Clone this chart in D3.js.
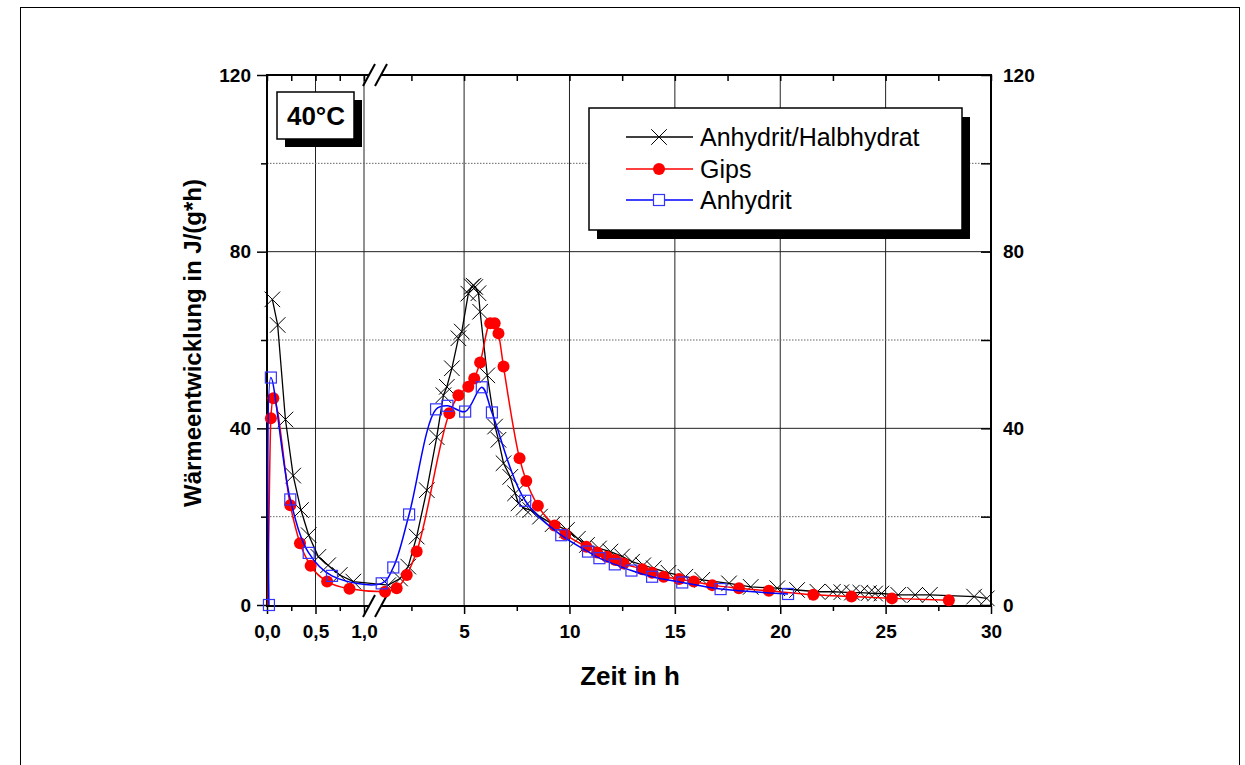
<!DOCTYPE html>
<html>
<head>
<meta charset="utf-8">
<script src="https://cdn.jsdelivr.net/npm/d3@7"></script>
<style>
  body { margin: 0; background: #fff; }
  text { font-family: 'Liberation Sans', Arial, sans-serif; }
  .tick text { font-weight: bold; font-size: 19px; fill: #000; }
</style>
</head>
<body>
<div id="chart"></div>
<script>
// Zeit in h / Wärmeentwicklung in J/(g*h)
const seriesNames = ['Anhydrit/Halbhydrat', 'Gips', 'Anhydrit'];

const halbhydratT = [0.055, 0.11, 0.19, 0.27, 0.35, 0.43, 0.53, 0.63, 0.75, 0.89, 1.4, 1.96, 2.35, 2.75, 3.23, 3.7,
  4.02, 4.18, 4.42, 4.73, 4.89, 5.2, 5.37, 5.45, 5.53, 5.68, 5.76, 6.1, 6.47, 6.63, 6.87, 7.19, 7.42, 7.58, 7.82,
  8.14, 8.6, 9.2, 9.88, 10.4, 10.83, 11.4, 11.94, 12.5, 12.97, 13.5, 14.0, 14.7, 15.5, 16.3, 17.57, 18.6, 19.86,
  20.8, 21.76, 22.5, 22.9, 23.4, 23.8, 24.2, 24.5, 24.8, 25.6, 26.4, 27.1, 29.2, 29.8];
const halbhydratW = [69.2, 63.4, 42, 29.3, 21.5, 15.8, 10.9, 9.0, 6.8, 5.3, 4.5, 6.0, 8.7, 15.5, 26, 38,
  47.5, 49.4, 53.6, 60.4, 61.9, 70.5, 72.1, 72.3, 72, 70.6, 66.4, 52, 40.4, 37.4, 32.1, 29, 25.3, 23, 22,
  21.5, 20, 18.3, 17, 15, 13.6, 12.8, 12.1, 11, 9.8, 9, 8.3, 7.3, 6.4, 5.7, 4.9, 4.1, 3.8,
  3.4, 3.0, 3.0, 2.9, 2.8, 2.8, 2.7, 2.6, 2.6, 2.3, 2.3, 2.3, 1.9, 1.5];

const gipsT = [0.01, 0.04, 0.065, 0.24, 0.34, 0.45, 0.62, 0.85, 1.25, 1.8, 2.28, 2.75, 4.3, 4.73, 5.2, 5.48, 5.76,
  6.24, 6.45, 6.63, 6.87, 7.63, 7.95, 8.5, 9.29, 9.8, 10.8, 11.31, 11.78, 12.18, 12.57, 13.45, 13.92, 14.47, 15.2,
  15.9, 16.77, 18.04, 19.46, 21.57, 23.38, 25.3, 28.0];
const gipsW = [0, 42.3, 46.8, 22.6, 14.0, 8.9, 5.3, 3.7, 3.0, 3.8, 6.8, 12.1, 43.4, 47.5, 49.4, 51.3, 54.9,
  63.8, 63.8, 61.5, 54, 33.2, 28.1, 22.5, 18, 16, 13.2, 11.9, 10.9, 10.2, 9.4, 8.1, 7.3, 6.4, 5.9,
  5.3, 4.5, 3.8, 3.2, 2.3, 1.9, 1.5, 1.1];

const anhydritT = [0.02, 0.04, 0.24, 0.43, 0.67, 1.09, 1.64, 2.39, 3.67, 4.21, 5.05, 5.84, 6.32, 7.9, 9.61,
  10.88, 11.42, 12.15, 12.94, 13.92, 15.35, 17.17, 20.37];
const anhydritW = [0, 51.5, 23.9, 11.8, 6.6, 4.9, 8.5, 20.5, 44.3, 45.1, 43.8, 49.3, 43.6, 23.6, 15.8,
  12.1, 10.6, 9.2, 7.8, 6.4, 5.1, 3.6, 2.5];

const xTicksLeft = [0, 0.5, 1.0];
const xMinorLeft = [0.25, 0.75];
const xTicksRight = [5, 10, 15, 20, 25, 30];
const xMinorRight = [2.5, 7.5, 12.5, 17.5, 22.5, 27.5];
const yTicks = [0, 40, 80, 120];
const yMinorTicks = [20, 60, 100];

const width = 1245;
const height = 765;

const svg = d3
  .select('#chart')
  .append('svg')
  .attr('width', width)
  .attr('height', height);

svg.append('rect').attr('width', width).attr('height', height).attr('fill', '#fff');
svg
  .append('rect')
  .attr('x', 20.5)
  .attr('y', 7.5)
  .attr('width', 1219)
  .attr('height', 800)
  .attr('fill', 'none')
  .attr('stroke', '#000');

// broken x axis: two linear pieces
const xLeft = d3.scaleLinear().domain([0, 1]).range([267, 364]);
const xRight = d3.scaleLinear().domain([1, 30]).range([379.8, 991]);
const xPos = t => (t <= 1 ? xLeft(t) : xRight(t));
const y = d3.scaleLinear().domain([0, 120]).range([605, 75]);

const commaFmt = d => d.toFixed(1).replace('.', ',');

// grid
const grid = svg.append('g').attr('class', 'grid');
[0.5, 1.0].map(xLeft).concat([5, 10, 15, 20, 25].map(xRight)).forEach(px => {
  grid
    .append('line')
    .attr('x1', px)
    .attr('x2', px)
    .attr('y1', y(120))
    .attr('y2', y(0))
    .attr('stroke', '#222')
    .attr('stroke-width', 1);
});
[40, 80].forEach(v => {
  grid
    .append('line')
    .attr('x1', 267)
    .attr('x2', 991)
    .attr('y1', y(v))
    .attr('y2', y(v))
    .attr('stroke', '#222')
    .attr('stroke-width', 1);
});
yMinorTicks.forEach(v => {
  grid
    .append('line')
    .attr('x1', 267)
    .attr('x2', 991)
    .attr('y1', y(v))
    .attr('y2', y(v))
    .attr('stroke', '#666')
    .attr('stroke-width', 1)
    .attr('stroke-dasharray', '1.5,1.5');
});

// axes
const axisG = (tr, axis) => {
  const g = svg.append('g').attr('transform', tr).call(axis);
  g.select('.domain').remove();
  g.selectAll('.tick line').attr('stroke', '#000').attr('stroke-width', 1.5);
  return g;
};

// bottom
axisG('translate(0,606)', d3.axisBottom(xLeft).tickValues(xTicksLeft).tickSize(8).tickPadding(11).tickFormat(commaFmt));
axisG('translate(0,606)', d3.axisBottom(xLeft).tickValues(xMinorLeft).tickSize(5).tickFormat(''));
axisG('translate(0,606)', d3.axisBottom(xRight).tickValues(xTicksRight).tickSize(8).tickPadding(11).tickFormat(d3.format('d')));
axisG('translate(0,606)', d3.axisBottom(xRight).tickValues(xMinorRight).tickSize(5).tickFormat(''));
// top (inward)
axisG('translate(0,75)', d3.axisBottom(xLeft).tickValues(xTicksLeft.concat(xMinorLeft)).tickSize(6).tickFormat(''));
axisG('translate(0,75)', d3.axisBottom(xRight).tickValues(xTicksRight.concat(xMinorRight)).tickSize(6).tickFormat(''));
// left
axisG('translate(267,0)', d3.axisLeft(y).tickValues(yTicks).tickSize(10).tickPadding(6).tickFormat(d3.format('d')));
axisG('translate(267,0)', d3.axisLeft(y).tickValues(yMinorTicks).tickSize(6).tickFormat(''));
// right (inward ticks, labels outside)
axisG('translate(991,0)', d3.axisLeft(y).tickValues(yTicks.concat(yMinorTicks)).tickSize(10).tickFormat(''));
axisG('translate(991,0)', d3.axisRight(y).tickValues(yTicks).tickSize(0).tickPadding(12).tickFormat(d3.format('d')));

// axis lines with break
const frame = svg.append('g').attr('stroke', '#000').attr('stroke-width', 2).attr('fill', 'none');
[75, 606].forEach(py => {
  frame.append('line').attr('x1', 267).attr('x2', 369).attr('y1', py).attr('y2', py);
  frame.append('line').attr('x1', 381).attr('x2', 992).attr('y1', py).attr('y2', py);
  [369, 381].forEach(cx => {
    frame
      .append('line')
      .attr('x1', cx - 6)
      .attr('y1', py + 11)
      .attr('x2', cx + 6)
      .attr('y2', py - 11);
  });
});
frame.append('line').attr('x1', 267).attr('x2', 267).attr('y1', 74).attr('y2', 607);
frame.append('line').attr('x1', 991).attr('x2', 991).attr('y1', 74).attr('y2', 607);

// series
const toPts = (ts, ws) => ts.map((t, i) => ({ t, w: ws[i] }));
const halbhydrat = toPts(halbhydratT, halbhydratW);
const gips = toPts(gipsT, gipsW);
const anhydrit = toPts(anhydritT, anhydritW);

const line = curve =>
  d3
    .line()
    .x(d => xPos(d.t))
    .y(d => y(d.w))
    .curve(curve);

const plot = svg.append('g');

// Anhydrit/Halbhydrat
plot
  .append('path')
  .attr('d', line(d3.curveLinear)(halbhydrat))
  .attr('fill', 'none')
  .attr('stroke', '#000')
  .attr('stroke-width', 1.3);
const cross = d3.symbol().type(d3.symbolTimes).size(160);
plot
  .selectAll('.cross')
  .data(halbhydrat)
  .enter()
  .append('path')
  .attr('class', 'cross')
  .attr('d', cross)
  .attr('transform', d => `translate(${xPos(d.t)},${y(d.w)})`)
  .attr('fill', 'none')
  .attr('stroke', '#000')
  .attr('stroke-width', 1);

// Gips
plot
  .append('path')
  .attr('d', line(d3.curveMonotoneX)(gips))
  .attr('fill', 'none')
  .attr('stroke', '#f00')
  .attr('stroke-width', 1.5);
plot
  .selectAll('.dot')
  .data(gips.filter(d => d.w > 0))
  .enter()
  .append('circle')
  .attr('class', 'dot')
  .attr('cx', d => xPos(d.t))
  .attr('cy', d => y(d.w))
  .attr('r', 6)
  .attr('fill', '#f00');

// Anhydrit
plot
  .append('path')
  .attr('d', line(d3.curveCatmullRom)(anhydrit))
  .attr('fill', 'none')
  .attr('stroke', '#00f')
  .attr('stroke-width', 1.5);
plot
  .selectAll('.sq')
  .data(anhydrit)
  .enter()
  .append('rect')
  .attr('class', 'sq')
  .attr('x', d => xPos(d.t) - 5.5)
  .attr('y', d => y(d.w) - 5.5)
  .attr('width', 11)
  .attr('height', 11)
  .attr('fill', 'none')
  .attr('stroke', '#33f')
  .attr('stroke-width', 1.2);

// 40°C label box
svg.append('rect').attr('x', 285).attr('y', 100).attr('width', 77).attr('height', 47).attr('fill', '#000');
svg
  .append('rect')
  .attr('x', 277)
  .attr('y', 92)
  .attr('width', 77)
  .attr('height', 47)
  .attr('fill', '#fff')
  .attr('stroke', '#000')
  .attr('stroke-width', 1.5);
svg
  .append('text')
  .attr('x', 316)
  .attr('y', 125)
  .attr('text-anchor', 'middle')
  .attr('font-size', 26)
  .attr('font-weight', 'bold')
  .text('40°C');

// legend
svg.append('rect').attr('x', 597).attr('y', 117).attr('width', 373).attr('height', 122).attr('fill', '#000');
svg
  .append('rect')
  .attr('x', 589)
  .attr('y', 108)
  .attr('width', 373)
  .attr('height', 122)
  .attr('fill', '#fff')
  .attr('stroke', '#000')
  .attr('stroke-width', 1.5);
const legendColors = ['#000', '#f00', '#00f'];
const legendRows = [137, 169, 200];
seriesNames.forEach((name, i) => {
  const ly = legendRows[i];
  svg
    .append('line')
    .attr('x1', 626)
    .attr('x2', 693)
    .attr('y1', ly)
    .attr('y2', ly)
    .attr('stroke', legendColors[i])
    .attr('stroke-width', 1.5);
  if (i === 0) {
    svg
      .append('path')
      .attr('d', cross)
      .attr('transform', `translate(659,${ly})`)
      .attr('fill', 'none')
      .attr('stroke', '#000');
  } else if (i === 1) {
    svg.append('circle').attr('cx', 659).attr('cy', ly).attr('r', 6).attr('fill', '#f00');
  } else {
    svg
      .append('rect')
      .attr('x', 653.5)
      .attr('y', ly - 5.5)
      .attr('width', 11)
      .attr('height', 11)
      .attr('fill', '#fff')
      .attr('stroke', '#33f')
      .attr('stroke-width', 1.2);
  }
  svg
    .append('text')
    .attr('x', 700)
    .attr('y', ly + 9)
    .attr('font-size', 25)
    .text(name);
});

// axis titles
svg
  .append('text')
  .attr('x', 630)
  .attr('y', 685)
  .attr('text-anchor', 'middle')
  .attr('font-size', 26)
  .attr('font-weight', 'bold')
  .text('Zeit in h');
svg
  .append('text')
  .attr('transform', 'translate(201,343) rotate(-90)')
  .attr('text-anchor', 'middle')
  .attr('font-size', 24)
  .attr('font-weight', 'bold')
  .text('Wärmeentwicklung in J/(g*h)');
</script>
</body>
</html>
